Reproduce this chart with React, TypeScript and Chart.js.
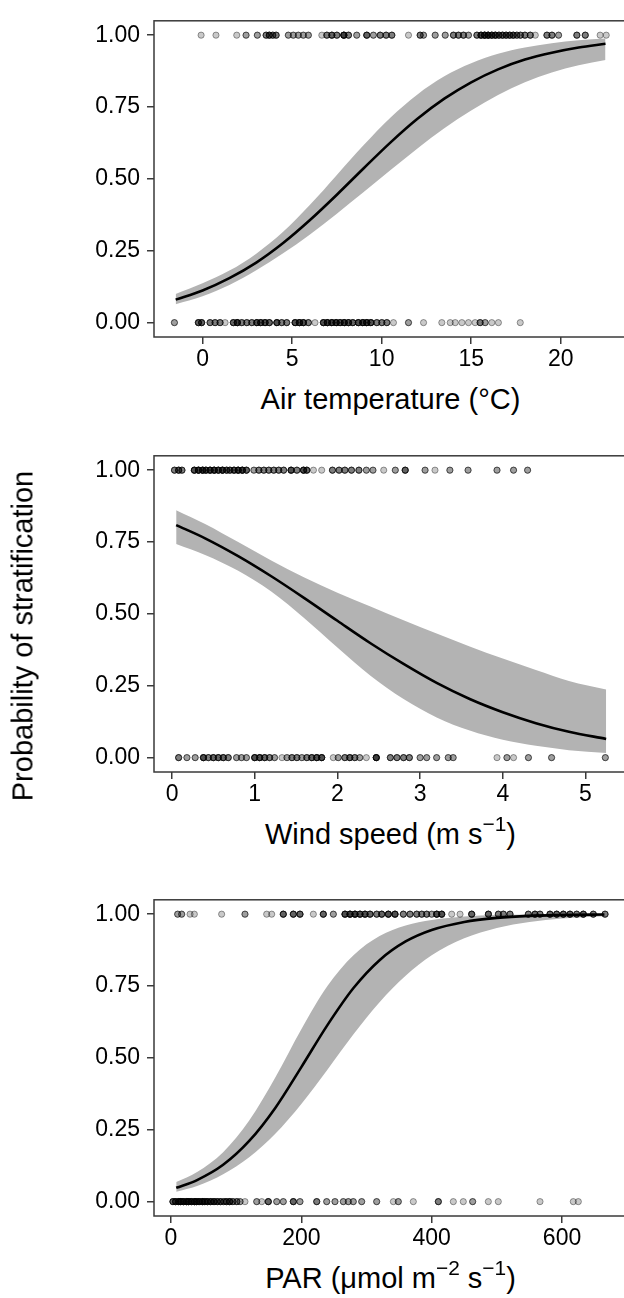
import React, { useEffect, useRef } from "react";
import { Chart, registerables } from "chart.js";

Chart.register(...registerables);

const FONT = '"Liberation Sans", Arial, Helvetica, sans-serif';

// Shared y axis
const Y_TICKS = [0, 0.25, 0.5, 0.75, 1];

// ---------- Panel 1: air temperature ----------
const TEMP_TICKS = [0, 5, 10, 15, 20];
const TEMP_CURVE_X = [-1.5, 0, 1.5, 3, 4.5, 6, 7.5, 9, 10.5, 12, 13.5, 15, 16.5, 18, 19.5, 21, 22.5];
const TEMP_FIT = [0.080, 0.112, 0.155, 0.209, 0.277, 0.357, 0.445, 0.537, 0.627, 0.709, 0.779, 0.836, 0.881, 0.915, 0.939, 0.957, 0.970];
const TEMP_LOWER = [0.064, 0.092, 0.131, 0.182, 0.241, 0.307, 0.379, 0.454, 0.531, 0.606, 0.676, 0.738, 0.792, 0.836, 0.870, 0.895, 0.914];
const TEMP_UPPER = [0.100, 0.137, 0.181, 0.240, 0.316, 0.410, 0.514, 0.618, 0.714, 0.794, 0.857, 0.902, 0.935, 0.957, 0.972, 0.982, 0.988];
const TEMP_STRAT_X = [-0.08, 0.75, 1.91, 2.43, 3.06, 3.55, 3.73, 3.92, 4.11, 4.79, 5.07, 5.35, 5.63, 5.91, 6.66, 6.94, 7.22, 7.5, 7.89, 8.15, 8.61, 9.17, 9.54, 9.92, 10.25, 10.57, 11.5, 12.15, 12.34, 12.99, 13.55, 14.01, 14.29, 14.57, 14.85, 15.32, 15.55, 15.75, 15.95, 16.15, 16.35, 16.55, 16.75, 16.95, 17.15, 17.35, 17.55, 17.75, 18.0, 18.3, 18.58, 19.23, 19.51, 19.88, 20.9, 21.37, 22.2, 22.54];
const TEMP_STRAT_N = [1, 1, 1, 2, 2, 3, 4, 3, 3, 2, 2, 2, 2, 2, 1, 3, 4, 3, 6, 3, 2, 4, 2, 3, 3, 3, 1, 3, 2, 2, 2, 3, 3, 3, 2, 3, 5, 6, 6, 5, 5, 4, 4, 4, 4, 4, 3, 3, 3, 3, 1, 3, 3, 2, 3, 3, 1, 1];
const TEMP_MIXED_X = [-1.57, -0.23, -0.05, 0.42, 0.7, 0.98, 1.26, 1.72, 1.94, 2.19, 2.47, 2.75, 3.03, 3.25, 3.49, 3.73, 4.15, 4.42, 4.7, 5.17, 5.41, 5.63, 5.91, 6.28, 6.75, 6.97, 7.22, 7.46, 7.68, 7.91, 8.15, 8.39, 8.7, 8.95, 9.17, 9.4, 9.73, 10.01, 10.29, 10.66, 11.5, 12.34, 13.36, 13.83, 14.11, 14.48, 14.85, 15.22, 15.5, 15.78, 16.15, 16.52, 17.74];
const TEMP_MIXED_N = [2, 4, 4, 3, 3, 3, 1, 4, 6, 3, 3, 3, 5, 5, 5, 4, 5, 3, 3, 5, 6, 5, 3, 1, 5, 6, 6, 6, 5, 6, 5, 4, 5, 6, 6, 5, 3, 3, 3, 1, 2, 1, 1, 1, 1, 1, 1, 1, 3, 2, 1, 1, 1];

// ---------- Panel 2: wind speed ----------
const WIND_TICKS = [0, 1, 2, 3, 4, 5];
const WIND_CURVE_X = [0.05, 0.4, 0.8, 1.2, 1.6, 2.0, 2.4, 2.8, 3.2, 3.6, 4.0, 4.4, 4.8, 5.25];
const WIND_FIT = [0.809, 0.763, 0.701, 0.631, 0.555, 0.476, 0.398, 0.326, 0.260, 0.204, 0.158, 0.120, 0.090, 0.065];
const WIND_LOWER = [0.743, 0.705, 0.650, 0.578, 0.485, 0.383, 0.285, 0.204, 0.140, 0.094, 0.062, 0.041, 0.026, 0.016];
const WIND_UPPER = [0.861, 0.813, 0.750, 0.686, 0.627, 0.574, 0.526, 0.478, 0.432, 0.387, 0.345, 0.305, 0.267, 0.237];
const WIND_STRAT_X = [0.03, 0.08, 0.12, 0.27, 0.32, 0.37, 0.41, 0.46, 0.51, 0.56, 0.61, 0.66, 0.7, 0.75, 0.8, 0.85, 0.9, 0.99, 1.05, 1.11, 1.17, 1.23, 1.29, 1.35, 1.44, 1.51, 1.59, 1.63, 1.71, 1.81, 1.94, 2.02, 2.09, 2.17, 2.26, 2.35, 2.43, 2.56, 2.7, 2.82, 3.06, 3.18, 3.36, 3.58, 3.93, 4.13, 4.3];
const WIND_STRAT_N = [3, 4, 3, 5, 6, 6, 5, 6, 6, 5, 6, 4, 4, 5, 6, 6, 4, 2, 3, 3, 3, 3, 3, 3, 5, 3, 5, 4, 1, 1, 3, 3, 3, 3, 3, 2, 2, 1, 2, 4, 2, 1, 2, 2, 2, 2, 2];
const WIND_MIXED_X = [0.08, 0.18, 0.28, 0.38, 0.44, 0.5, 0.56, 0.62, 0.68, 0.78, 0.84, 0.9, 1.0, 1.06, 1.12, 1.18, 1.24, 1.33, 1.39, 1.45, 1.51, 1.57, 1.63, 1.69, 1.75, 1.81, 1.95, 2.01, 2.09, 2.15, 2.21, 2.27, 2.35, 2.47, 2.64, 2.72, 2.8, 2.87, 3.0, 3.08, 3.2, 3.34, 3.4, 3.93, 4.05, 4.13, 4.31, 4.59, 5.24];
const WIND_MIXED_N = [3, 2, 2, 5, 3, 4, 4, 4, 3, 2, 2, 2, 5, 5, 4, 3, 2, 1, 2, 3, 3, 2, 3, 4, 5, 5, 1, 2, 3, 4, 3, 2, 1, 6, 3, 3, 3, 3, 2, 2, 2, 2, 2, 1, 2, 1, 2, 2, 2];

// ---------- Panel 3: PAR ----------
const PAR_TICKS = [0, 200, 400, 600];
const PAR_CURVE_X = [8, 40, 80, 120, 160, 200, 240, 280, 320, 360, 400, 450, 500, 550, 600, 665];
const PAR_FIT = [0.048, 0.075, 0.128, 0.211, 0.326, 0.468, 0.614, 0.743, 0.840, 0.905, 0.945, 0.973, 0.987, 0.994, 0.997, 0.999];
const PAR_LOWER = [0.034, 0.054, 0.095, 0.154, 0.236, 0.340, 0.459, 0.582, 0.694, 0.786, 0.857, 0.916, 0.952, 0.973, 0.985, 0.993];
const PAR_UPPER = [0.068, 0.103, 0.172, 0.282, 0.432, 0.600, 0.750, 0.857, 0.924, 0.961, 0.980, 0.992, 0.997, 0.999, 0.9994, 0.9998];
const PAR_STRAT_X = [10.2, 16.4, 29.2, 35.8, 77.7, 113.5, 146.8, 154.5, 172.3, 187.7, 197.9, 218.4, 233.7, 249.1, 267, 274.7, 282.3, 290, 297.7, 305.4, 315.6, 323.3, 333.5, 343.7, 356.5, 366.7, 377, 384.7, 392.3, 400, 407.7, 415.4, 430.7, 443.5, 461.4, 487, 502.3, 510, 520.2, 548.3, 558.5, 566.2, 581.5, 591.8, 602, 612.2, 622.5, 632.7, 648, 666];
const PAR_STRAT_N = [2, 2, 1, 1, 1, 2, 1, 1, 4, 4, 4, 1, 4, 2, 5, 6, 6, 5, 5, 4, 3, 4, 5, 5, 3, 3, 3, 3, 3, 2, 5, 5, 1, 1, 4, 4, 3, 3, 3, 3, 4, 3, 4, 4, 4, 4, 3, 4, 3, 3];
const PAR_MIXED_X = [3, 7, 12, 15, 19, 24, 27, 31, 36, 39, 43, 48, 52, 56, 61, 66, 71, 76, 81, 85, 90, 95, 101, 106, 113.5, 131.5, 139.2, 149.3, 162.2, 172.3, 187.7, 197.9, 223.6, 238.9, 251.6, 264.4, 272.1, 279.7, 292.6, 315.6, 341.2, 348.8, 371.8, 410.2, 433.2, 448.5, 462.9, 486.9, 502.2, 566.2, 617.3, 625];
const PAR_MIXED_N = [4, 5, 6, 6, 6, 6, 6, 6, 6, 5, 6, 6, 5, 5, 5, 5, 4, 4, 3, 4, 5, 3, 3, 2, 1, 2, 1, 4, 2, 2, 4, 2, 3, 2, 2, 2, 2, 2, 2, 2, 1, 2, 1, 3, 1, 1, 2, 1, 1, 1, 1, 1];

const AXIS_COLOR = "#3a3a3a";

const framePlugin = {
  id: "panelFrame",
  afterDatasetsDraw(chart: any) {
    const { ctx, chartArea } = chart;
    const { left, top, right, bottom } = chartArea;
    ctx.save();
    ctx.strokeStyle = AXIS_COLOR;
    ctx.lineWidth = 1.5;
    ctx.strokeRect(left, top, right - left, bottom - top);
    ctx.restore();
  },
};

const expand = (xs: number[], ns: number[], y: number) =>
  xs.flatMap((x, i) => Array.from({ length: ns[i] }, () => ({ x, y })));

const pairs = (xs: number[], ys: number[]) => xs.map((x, i) => ({ x, y: ys[i] }));

type PanelProps = {
  top: number;
  padTop: number;
  xMin: number;
  xMax: number;
  xTicks: number[];
  curveX: number[];
  fit: number[];
  lower: number[];
  upper: number[];
  oneX: number[];
  oneN: number[];
  zeroX: number[];
  zeroN: number[];
};

const CANVAS_W = 640;
const CANVAS_H = 382;

function Panel(p: PanelProps) {
  const ref = useRef<HTMLCanvasElement | null>(null);
  useEffect(() => {
    if (!ref.current) return;
    const tickFont = { family: FONT, size: 23 };
    const gridOpts = {
      display: true,
      drawOnChartArea: false,
      drawTicks: true,
      tickLength: 7,
      color: AXIS_COLOR,
      lineWidth: 1.5,
    };
    const chart = new Chart(ref.current, {
      type: "line",
      data: {
        datasets: [
          {
            type: "scatter",
            data: [...expand(p.oneX, p.oneN, 1), ...expand(p.zeroX, p.zeroN, 0)],
            pointRadius: 3.1,
            pointHoverRadius: 3.1,
            backgroundColor: "rgba(0,0,0,0.21)",
            borderColor: "rgba(0,0,0,0.38)",
            borderWidth: 1,
            showLine: false,
            order: 0,
          } as any,
          {
            data: pairs(p.curveX, p.fit),
            borderColor: "#000",
            borderWidth: 2.6,
            pointRadius: 0,
            cubicInterpolationMode: "monotone",
            fill: false,
            order: 1,
          },
          {
            data: pairs(p.curveX, p.lower),
            borderColor: "rgba(0,0,0,0)",
            borderWidth: 1,
            pointRadius: 0,
            cubicInterpolationMode: "monotone",
            fill: false,
            order: 3,
          },
          {
            data: pairs(p.curveX, p.upper),
            borderColor: "rgba(0,0,0,0)",
            borderWidth: 1,
            pointRadius: 0,
            cubicInterpolationMode: "monotone",
            fill: "-1",
            backgroundColor: "#b3b3b3",
            order: 2,
          },
        ],
      },
      options: {
        animation: false,
        responsive: false,
        maintainAspectRatio: false,
        events: [],
        layout: { padding: { top: p.padTop, right: 13, left: 0, bottom: 0 } },
        plugins: { legend: { display: false }, tooltip: { enabled: false } },
        scales: {
          x: {
            type: "linear",
            min: p.xMin,
            max: p.xMax,
            afterBuildTicks: (s: any) => {
              s.ticks = p.xTicks.map((v) => ({ value: v }));
            },
            afterFit: (s: any) => {
              s.height = 45;
            },
            grid: gridOpts,
            border: { display: false },
            ticks: {
              color: "#000",
              font: tickFont,
              padding: 2,
              maxRotation: 0,
              autoSkip: false,
              callback: (v: any) => String(v),
            },
          },
          y: {
            type: "linear",
            min: -0.05,
            max: 1.05,
            afterBuildTicks: (s: any) => {
              s.ticks = Y_TICKS.map((v) => ({ value: v }));
            },
            afterFit: (s: any) => {
              s.width = 154;
            },
            grid: gridOpts,
            border: { display: false },
            ticks: {
              color: "#000",
              font: tickFont,
              padding: 7,
              autoSkip: false,
              callback: (v: any) => Number(v).toFixed(2),
            },
          },
        },
      } as any,
      plugins: [framePlugin],
    });
    return () => chart.destroy();
  }, []);
  return (
    <canvas
      ref={ref}
      width={CANVAS_W}
      height={CANVAS_H}
      style={{ position: "absolute", left: 0, top: p.top, width: CANVAS_W, height: CANVAS_H }}
    />
  );
}

const supStyle: React.CSSProperties = { fontSize: "0.72em", position: "relative", top: "-0.6em" };

function XTitle({ top, children }: { top: number; children: React.ReactNode }) {
  return (
    <div
      style={{
        position: "absolute",
        left: 154,
        width: 473,
        top,
        textAlign: "center",
        fontSize: 29,
        lineHeight: "29px",
        color: "#000",
        whiteSpace: "nowrap",
      }}
    >
      {children}
    </div>
  );
}

export default function App() {
  return (
    <div
      style={{
        position: "absolute",
        left: 0,
        top: 0,
        width: 624,
        height: 1298,
        overflow: "hidden",
        background: "#fff",
        fontFamily: FONT,
      }}
    >
      <Panel
        top={0}
        padTop={9.1}
        xMin={-2.71}
        xMax={23.7}
        xTicks={TEMP_TICKS}
        curveX={TEMP_CURVE_X}
        fit={TEMP_FIT}
        lower={TEMP_LOWER}
        upper={TEMP_UPPER}
        oneX={TEMP_STRAT_X}
        oneN={TEMP_STRAT_N}
        zeroX={TEMP_MIXED_X}
        zeroN={TEMP_MIXED_N}
      />
      <Panel
        top={435}
        padTop={10.2}
        xMin={-0.218}
        xMax={5.502}
        xTicks={WIND_TICKS}
        curveX={WIND_CURVE_X}
        fit={WIND_FIT}
        lower={WIND_LOWER}
        upper={WIND_UPPER}
        oneX={WIND_STRAT_X}
        oneN={WIND_STRAT_N}
        zeroX={WIND_MIXED_X}
        zeroN={WIND_MIXED_N}
      />
      <Panel
        top={879}
        padTop={9.1}
        xMin={-26.1}
        xMax={699.7}
        xTicks={PAR_TICKS}
        curveX={PAR_CURVE_X}
        fit={PAR_FIT}
        lower={PAR_LOWER}
        upper={PAR_UPPER}
        oneX={PAR_STRAT_X}
        oneN={PAR_STRAT_N}
        zeroX={PAR_MIXED_X}
        zeroN={PAR_MIXED_N}
      />
      <XTitle top={385}>Air temperature (°C)</XTitle>
      <XTitle top={820}>
        Wind speed (m s<span style={supStyle}>−1</span>)
      </XTitle>
      <XTitle top={1264}>
        PAR (μmol m<span style={supStyle}>−2</span> s<span style={supStyle}>−1</span>)
      </XTitle>
      <div
        style={{
          position: "absolute",
          left: 23,
          top: 636,
          width: 420,
          fontSize: 29,
          lineHeight: "29px",
          textAlign: "center",
          whiteSpace: "nowrap",
          color: "#000",
          transform: "translate(-50%, -50%) rotate(-90deg)",
        }}
      >
        Probability of stratification
      </div>
    </div>
  );
}
